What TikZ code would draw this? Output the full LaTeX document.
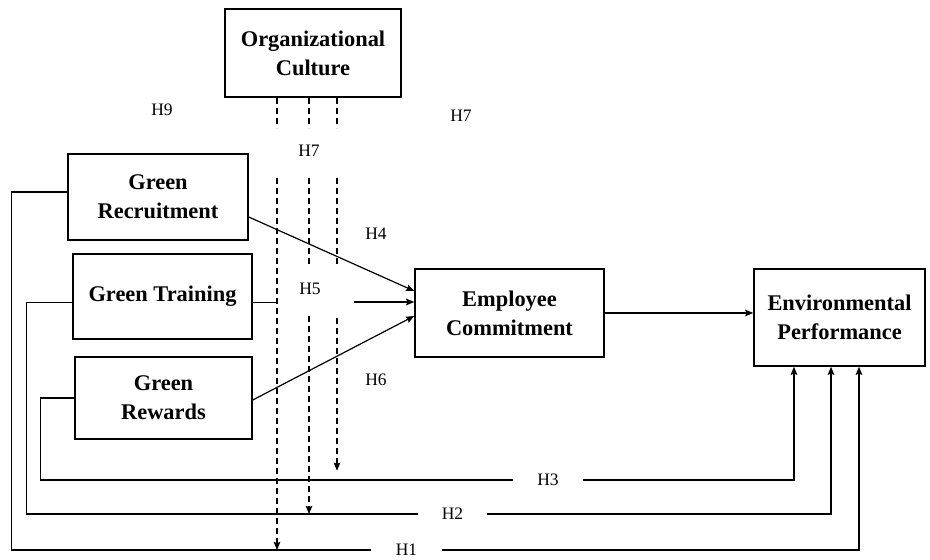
\documentclass[tikz,border=0pt]{standalone}
\usepackage{fontspec}
\setmainfont{Liberation Serif}
\usepackage{tikz}
\usetikzlibrary{arrows.meta}
\tikzstyle{construct} = [rectangle, draw=black, line width=1.5pt, inner sep=0pt, align=center, font=\fontsize{22.4}{29}\selectfont\bfseries]
\tikzstyle{hyp} = [inner sep=0pt, font=\fontsize{17.5}{21}\selectfont]
\tikzstyle{link} = [line width=1.2pt]
\tikzstyle{arrow} = [line width=1.2pt,->,>={Stealth[length=8pt,width=6.5pt,inset=1pt]}]
\tikzstyle{moderator} = [line width=1.2pt, dash pattern=on 6pt off 4pt]

\begin{document}
\begin{tikzpicture}[x=1pt, y=-1pt]
    \useasboundingbox (0,0) rectangle (930,560);

    \node (culture) [construct, minimum width=176pt, minimum height=88pt] at (313,53) {Organizational\\Culture};
    \node (recruit) [construct, minimum width=180pt, minimum height=86pt] at (158,197) {Green\\Recruitment};
    \node (training) [construct, minimum width=179pt, minimum height=85pt] at (162.5,296.5) {Green Training};
    \node (rewards) [construct, minimum width=177pt, minimum height=82pt] at (163.5,398) {Green\\Rewards};
    \node (commit) [construct, minimum width=189pt, minimum height=88pt] at (509.5,313) {Employee\\Commitment};
    \node (envperf) [construct, minimum width=171pt, minimum height=97pt] at (839.5,317.5) {Environmental\\Performance};

    % hypothesis labels
    \node (h9) [hyp] at (162,110) {H9};
    \node (h7a) [hyp] at (461,116) {H7};
    \node (h7b) [hyp] at (309,151) {H7};
    \node (h4) [hyp] at (376,234) {H4};
    \node (h5) [hyp] at (310,289) {H5};
    \node (h6) [hyp] at (376,380) {H6};
    \node (h3) [hyp, minimum width=70pt] at (548,480) {H3};
    \node (h2) [hyp, minimum width=69pt] at (452.5,514) {H2};
    \node (h1) [hyp, minimum width=71pt] at (406.5,550) {H1};

    % moderating lines
    \coordinate (m1) at ([xshift=-36pt]culture.south);
    \coordinate (m2) at ([xshift=-4pt]culture.south);
    \coordinate (m3) at ([xshift=24pt]culture.south);
    \draw [moderator] (m1) -- ++(0,30);
    \draw [moderator] (m2) -- ++(0,30);
    \draw [moderator] (m3) -- ++(0,30);
    \draw [moderator, arrow] ([yshift=-80pt]m1) -- (m1 |- h1.center);
    \draw [moderator] ([yshift=-80pt]m2) -- ([yshift=-166pt]m2);
    \draw [moderator, arrow] ([yshift=-218pt]m2) -- (m2 |- h2.center);
    \draw [moderator] ([yshift=-80pt]m3) -- ([yshift=-168pt]m3);
    \draw [moderator, arrow] ([yshift=-220pt]m3) -- ([yshift=-373pt]m3);

    \draw [arrow] ([yshift=-20pt]recruit.east) -- ([yshift=22pt]commit.west);
    \draw [link] ([yshift=-6pt]training.east) -- ++(24.5,0);
    \draw [arrow] ([xshift=-60pt,yshift=11pt]commit.west) -- ([yshift=11pt]commit.west);
    \draw [arrow] ([yshift=-2pt]rewards.east) -- ([yshift=-3pt]commit.west);
    \draw [arrow] (commit.east) -- (commit.east -| envperf.west);

    % direct paths
    \draw [link] (rewards.west) -- ++(-34,0) |- (h3.west);
    \draw [arrow] (h3.east) -| ([xshift=-45.5pt]envperf.south);
    \draw [link] ([yshift=-6pt]training.west) -- ++(-46,0) |- (h2.west);
    \draw [arrow] (h2.east) -| ([xshift=-8.5pt]envperf.south);
    \draw [link] ([yshift=5pt]recruit.west) -- ++(-56,0) |- (h1.west);
    \draw [arrow] (h1.east) -| ([xshift=19.5pt]envperf.south);
\end{tikzpicture}
\end{document}
